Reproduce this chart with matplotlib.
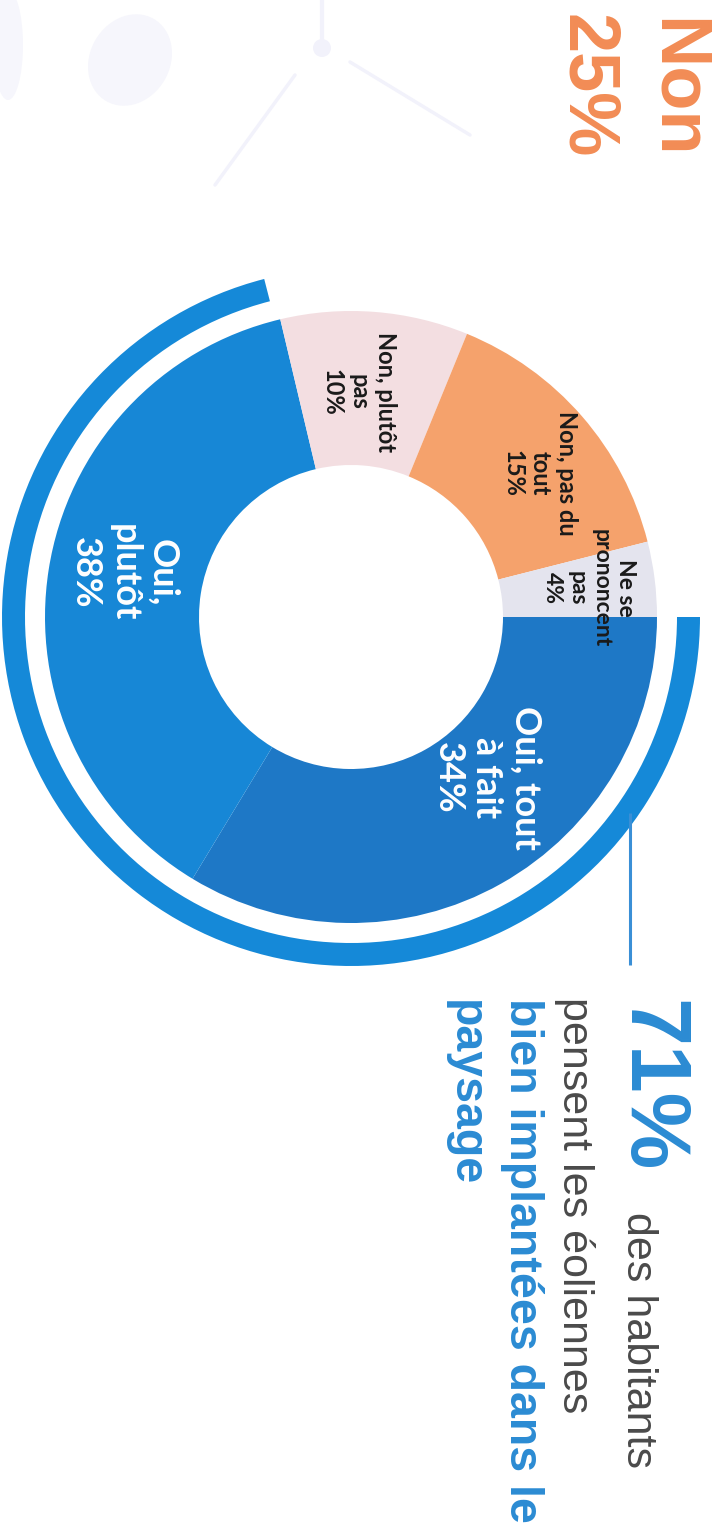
import matplotlib
matplotlib.use("Agg")
import matplotlib.pyplot as plt
from matplotlib.patches import Ellipse

# survey answers, clockwise from the top of the (rotated) donut
answers = ["Oui, tout\nà fait", "Oui,\nplutôt", "Non, plutôt\npas", "Non, pas du\ntout", "Ne se\nprononcent\npas"]
shares = [34, 38, 10, 15, 4]
seg_colors = ["#1E78C6", "#1787D6", "#F3DEE1", "#F5A26C", "#E4E4EE"]
label_colors = ["white", "white", "#1A1A1A", "#1A1A1A", "#1A1A1A"]

# outer ring = share of "oui"
oui_total = 71
non_total = 25

W, H = 722, 1539
fig = plt.figure(figsize=(W / 100, H / 100), dpi=100)
ax = fig.add_axes([0, 0, 1, 1])

# very faint wind turbine watermark, top left
wm = "#F2F2FB"
ax.plot([322, 322], [H - 0, H - 40], color=wm, lw=3, solid_capstyle="round")
ax.plot([295, 215], [H - 75, H - 185], color=wm, lw=2.5, solid_capstyle="round")
ax.plot([350, 470], [H - 62, H - 135], color=wm, lw=2.5, solid_capstyle="round")
ax.add_patch(Ellipse((322, H - 48), 18, 18, color=wm, lw=0))
ax.add_patch(Ellipse((130, H - 60), 80, 95, angle=-30, color="#F6F6FC", lw=0))
ax.add_patch(Ellipse((8, H - 45), 30, 110, color="#F6F6FC", lw=0))

cx, cy = 351, H - 617

# the whole chart is turned a quarter clockwise, so text runs downwards
ax.pie(shares, center=(cx, cy), radius=306, startangle=0, counterclock=False,
       colors=seg_colors, wedgeprops=dict(width=154, linewidth=0))
ax.pie([oui_total, 100 - oui_total], center=(cx, cy), radius=349, startangle=0,
       counterclock=False, colors=["#1589D8", "none"],
       wedgeprops=dict(width=23, linewidth=0))

# segment labels (image positions)
label_pos = [(487, 778), (124, 573), (359, 392), (540, 473), (589, 588)]
label_size = [26, 26, 17, 17, 16.5]
for txt, val, (px, py), col, fs in zip(answers, shares, label_pos, label_colors, label_size):
    ax.text(px, H - py, f"{txt}\n{val}%", rotation=-90, rotation_mode="anchor",
            ha="center", va="center", multialignment="center",
            fontsize=fs, fontweight="bold", color=col, family="Lato",
            linespacing=1.2)

# connector from the ring to the key figure
ax.plot([630, 630], [H - 813, H - 965], color="#3A8FD6", lw=2.2, solid_capstyle="butt")

blue = "#2B8BD3"
grey = "#4A4A4A"
orange = "#F28C55"
txt_kw = dict(rotation=-90, rotation_mode="anchor", ha="left", va="baseline",
              family="Liberation Sans")

ax.text(657, H - 18, "Non", fontsize=52, fontweight="bold", color=orange, **txt_kw)
ax.text(567, H - 14, f"{non_total}%", fontsize=52, fontweight="bold", color=orange, **txt_kw)

ax.text(627, H - 1000, f"{oui_total}%", fontsize=62, fontweight="bold", color=blue, **txt_kw)
ax.text(627, H - 1212, "des habitants", fontsize=31, color=grey, **txt_kw)
ax.text(563, H - 997, "pensent les éoliennes", fontsize=31, color=grey, **txt_kw)
ax.text(510, H - 998, "bien implantées dans le", fontsize=33.5, fontweight="bold", color=blue, **txt_kw)
ax.text(453, H - 1000, "paysage", fontsize=33.5, fontweight="bold", color=blue, **txt_kw)

ax.set_xlim(0, W)
ax.set_ylim(0, H)
ax.set_aspect("auto")
ax.axis("off")

fig.savefig("out.png", dpi=100, facecolor="white")
